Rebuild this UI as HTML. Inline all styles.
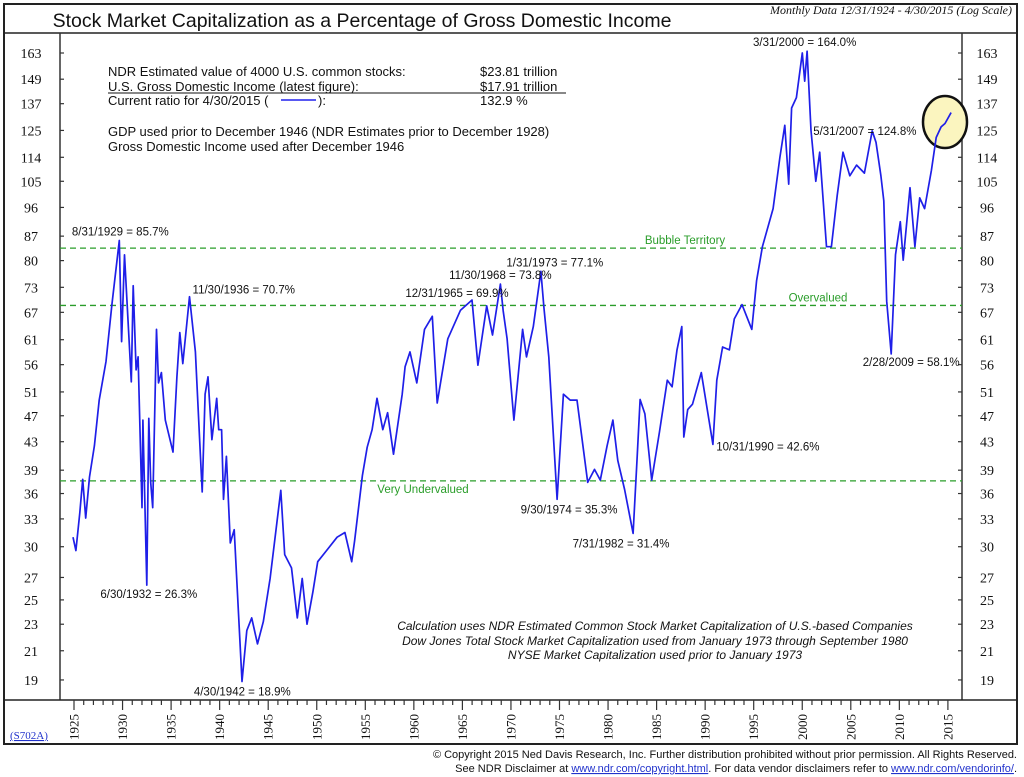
<!DOCTYPE html>
<html><head><meta charset="utf-8">
<style>
body{margin:0;background:#fff;}
svg{display:block;}
.s{font-family:"Liberation Sans",sans-serif;}
.r{font-family:"Liberation Serif",serif;}
</style></head>
<body>
<svg id="chart" width="1024" height="777" viewBox="0 0 1024 777" xmlns="http://www.w3.org/2000/svg">
<rect x="4" y="4" width="1013" height="740" fill="#fff" stroke="#222" stroke-width="2"/>
<line x1="4" y1="33" x2="1017" y2="33" stroke="#222" stroke-width="1.5"/>
<text class="s" x="362" y="27" font-size="19.5" text-anchor="middle" fill="#111">Stock Market Capitalization as a Percentage of Gross Domestic Income</text>
<text class="r" x="1012" y="14" font-size="12" font-style="italic" text-anchor="end" fill="#111">Monthly Data 12/31/1924 - 4/30/2015 (Log Scale)</text>
<line x1="60" y1="33" x2="60" y2="700" stroke="#333" stroke-width="1.5"/>
<line x1="962" y1="33" x2="962" y2="700" stroke="#333" stroke-width="1.5"/>
<line x1="4" y1="700" x2="1017" y2="700" stroke="#222" stroke-width="1.5"/>
<g id="grid"></g>
<g id="ticks"></g>
<g class="s" font-size="13" fill="#111">
<text x="108" y="76">NDR Estimated value of 4000 U.S. common stocks:</text>
<text x="480" y="76">$23.81 trillion</text>
<text x="108" y="91">U.S. Gross Domestic Income (latest figure):</text>
<text x="480" y="91">$17.91 trillion</text>
<line x1="108" y1="93" x2="566" y2="93" stroke="#111" stroke-width="1"/>
<text x="108" y="105">Current ratio for 4/30/2015 (</text>
<line x1="281" y1="100" x2="316" y2="100" stroke="#2020ee" stroke-width="1.5"/>
<text x="318" y="105">):</text>
<text x="480" y="105">132.9 %</text>
<text x="108" y="136">GDP used prior to December 1946 (NDR Estimates prior to December 1928)</text>
<text x="108" y="151">Gross Domestic Income used after December 1946</text>
</g>
<g class="s" font-size="12" font-style="italic" fill="#111" text-anchor="middle">
<text x="655" y="630">Calculation uses NDR Estimated Common Stock Market Capitalization of U.S.-based Companies</text>
<text x="655" y="645">Dow Jones Total Stock Market Capitalization used from January 1973 through September 1980</text>
<text x="655" y="659">NYSE Market Capitalization used prior to January 1973</text>
</g>
<ellipse cx="945" cy="122" rx="22" ry="26" fill="#fbf5bf" stroke="#111" stroke-width="2.5"/>
<g id="series"></g>
<g id="labels" class="s" font-size="11.5" fill="#111"></g>
<text class="r" x="10" y="739" font-size="11" fill="#2233cc" text-decoration="underline">(S702A)</text>
<g class="s" font-size="11" fill="#111" text-anchor="end">
<text x="1017" y="758">© Copyright 2015 Ned Davis Research, Inc.  Further distribution prohibited without prior permission.  All Rights Reserved.</text>
<text x="1017" y="772">See NDR Disclaimer at <tspan fill="#2233cc" text-decoration="underline">www.ndr.com/copyright.html</tspan>.  For data vendor disclaimers refer to <tspan fill="#2233cc" text-decoration="underline">www.ndr.com/vendorinfo/</tspan>.</text>
</g>
</svg>
<script>
const yTicks=[163,149,137,125,114,105,96,87,80,73,67,61,56,51,47,43,39,36,33,30,27,25,23,21,19];
const xTicks=[1925,1930,1935,1940,1945,1950,1955,1960,1965,1970,1975,1980,1985,1990,1995,2000,2005,2010,2015];
const refValues=[83.5,68.6,37.6];
const refNames=["Bubble Territory","Overvalued","Very Undervalued"];
const years=[1924.9,1925.2,1925.6,1925.9,1926.2,1926.6,1927.1,1927.6,1928.3,1928.9,1929.67,1929.9,1930.2,1930.9,1931.1,1931.4,1931.6,1932.0,1932.1,1932.5,1932.7,1932.9,1933.1,1933.5,1933.7,1934.0,1934.4,1935.2,1935.6,1935.9,1936.2,1936.9,1937.5,1938.0,1938.2,1938.5,1938.8,1939.2,1939.7,1939.9,1940.2,1940.4,1940.7,1941.1,1941.5,1942.3,1942.8,1943.3,1943.9,1944.5,1945.2,1945.9,1946.3,1946.7,1947.4,1948.0,1948.5,1949.0,1949.6,1950.1,1951.0,1952.1,1952.9,1953.6,1953.9,1954.7,1955.2,1955.7,1956.2,1956.8,1957.3,1957.9,1958.8,1959.1,1959.6,1960.3,1961.1,1961.9,1962.4,1963.5,1964.8,1965.99,1966.6,1967.5,1968.1,1968.91,1969.2,1969.6,1970.3,1971.2,1971.6,1972.3,1973.08,1973.4,1973.9,1974.75,1975.4,1976.1,1976.8,1977.9,1978.6,1979.2,1979.9,1980.5,1981.0,1981.7,1982.58,1983.0,1983.3,1983.8,1984.5,1985.3,1986.1,1986.6,1987.1,1987.6,1987.8,1988.2,1988.7,1989.6,1990.8,1991.2,1991.8,1992.5,1993.0,1993.8,1994.8,1995.3,1995.9,1997.0,1997.7,1998.2,1998.6,1998.9,1999.4,2000.0,2000.25,2000.5,2000.9,2001.4,2001.8,2002.5,2003.0,2003.6,2004.2,2004.9,2005.6,2006.4,2007.2,2007.6,2008.1,2008.4,2008.7,2009.16,2009.6,2010.1,2010.4,2011.1,2011.6,2012.1,2012.6,2013.3,2013.8,2014.3,2014.7,2015.33];
const values=[31.0,29.6,33.7,37.8,33.1,38.1,42.4,49.6,56.6,68.8,85.7,60.6,81.6,52.8,73.4,55.0,57.5,34.3,46.3,26.3,46.6,37.4,34.3,63.2,52.6,54.5,46.3,41.5,53.7,62.5,56.2,70.7,58.5,41.6,36.2,50.6,53.7,43.3,49.9,44.8,44.8,35.3,40.9,30.4,31.8,18.9,22.5,23.5,21.5,23.2,26.9,32.6,36.4,29.2,27.9,23.5,26.9,23.0,25.7,28.5,29.6,31.0,31.5,28.5,30.6,38.3,42.2,44.8,49.9,44.8,47.5,41.2,50.6,55.6,58.5,52.6,63.2,66.1,49.1,61.2,67.5,69.9,55.9,68.5,62.0,73.8,67.3,61.2,46.3,63.2,57.5,63.8,77.1,67.9,57.5,35.3,50.6,49.6,49.6,37.4,39.1,37.7,42.4,46.3,40.3,36.5,31.4,40.9,49.7,47.3,37.7,44.5,53.1,51.9,58.9,63.8,43.7,48.0,48.9,54.5,42.6,53.1,59.5,58.9,65.5,68.8,63.2,74.7,83.9,95.6,114,127.2,104,135,139.9,163,148,164,125,105,116,83.9,83.9,100,116,107,111,108,124.8,120,107,98.2,69.6,58.1,81.6,91.4,80.1,102.7,83.9,99.2,95.6,109,122,126.5,128,132.9];
const annText=["8/31/1929 = 85.7%","6/30/1932 = 26.3%","11/30/1936 = 70.7%","4/30/1942 = 18.9%","12/31/1965 = 69.9%","11/30/1968 = 73.8%","1/31/1973 = 77.1%","9/30/1974 = 35.3%","7/31/1982 = 31.4%","10/31/1990 = 42.6%","3/31/2000 = 164.0%","5/31/2007 = 124.8%","2/28/2009 = 58.1%"];
const annYear=[1929.67,1932.5,1936.9,1942.33,1965.99,1968.91,1973.08,1974.75,1982.58,1990.83,2000.25,2007.41,2009.16];
const annValue=[85.7,26.3,70.7,18.9,69.9,73.8,77.1,35.3,31.4,42.6,164.0,124.8,58.1];
const annPos=["above","below","right","below","above","above","above","below","below","right","above","left","below"];

const NS="http://www.w3.org/2000/svg";
const X=yr=>74+(yr-1925)*9.71;
const Y=v=>53+Math.log(163/v)*291.7;
function mk(tag,attrs,parent){const e=document.createElementNS(NS,tag);for(const k in attrs)e.setAttribute(k,attrs[k]);parent.appendChild(e);return e;}
const ticks=document.getElementById('ticks'),grid=document.getElementById('grid'),series=document.getElementById('series'),labels=document.getElementById('labels');

yTicks.forEach(v=>{
  const y=Y(v);
  const l1=mk('line',{x1:60,y1:y,x2:64,y2:y,stroke:'#333','stroke-width':1.2},ticks);
  
  
  const l2=mk('line',{x1:958,y1:y,x2:962,y2:y,stroke:'#333','stroke-width':1.2},ticks);
  
  
  const t1=mk('text',{x:31,y:y+5,'font-size':14,'text-anchor':'middle',class:'r',fill:'#111'},ticks);
  t1.textContent=v;
  
  
  const t2=mk('text',{x:987,y:y+5,'font-size':14,'text-anchor':'middle',class:'r',fill:'#111'},ticks);
  t2.textContent=v;
  
  
});
for(let yr=1925;yr<=2015;yr++){
  const x=X(yr),major=xTicks.includes(yr);
  const l=mk('line',{x1:x,y1:700,x2:x,y2:major?710:705,stroke:'#333','stroke-width':1.2},ticks);
  
  
}
xTicks.forEach(yr=>{
  const x=X(yr);
  const t=mk('text',{x:0,y:0,'font-size':13,class:'r',fill:'#111','text-anchor':'middle',transform:`translate(${x+4.5},727) rotate(-90)`},ticks);
  t.textContent=yr;
  
  
});
const refLabelX=[685,818,423];
refValues.forEach((v,i)=>{
  const y=Y(v);
  const l=mk('line',{x1:60,y1:y,x2:962,y2:y,stroke:'#2a9d2a','stroke-width':1.3,'stroke-dasharray':'6,4'},grid);
  
  
  const t=mk('text',{x:refLabelX[i],y:i==2?y+12:y-4,'font-size':11.5,class:'s',fill:'#2a9d2a','text-anchor':'middle'},grid);
  t.textContent=refNames[i];
  
  
});
const pts=years.map((yr,i)=>X(yr).toFixed(1)+','+Y(values[i]).toFixed(1)).join(' ');
const pl=mk('polyline',{points:pts,fill:'none',stroke:'#1f1fe8','stroke-width':1.7,'stroke-linejoin':'round'},series);


annText.forEach((s,i)=>{
  const x=X(annYear[i]),y=Y(annValue[i]);let tx=x,ty=y,anc='middle';
  if(annPos[i]=='above'){ty=y-5;}
  else if(annPos[i]=='below'){ty=y+14;}
  else if(annPos[i]=='right'){tx=x+3;ty=annYear[i]>1980?y+6:y-3;anc='start';}
  else {tx=x-4;ty=y+2;anc='end';}
  if(i==0){tx=x+1;}
  if(i==1){tx=x+2;ty=y+13;}
  if(i==4){tx=x-15;ty=y-3;}
  if(i==6){tx=x+14;ty=y-5;}
  if(i==7){tx=x+12;}
  if(i==8){tx=x-12;}
  if(i==11){tx=x-61;ty=y+4;anc='start';}
  if(i==12){tx=x+20;ty=y+12;}
  const t=mk('text',{x:tx,y:ty,'text-anchor':anc},labels);
  t.textContent=s;
  
  
});
</script>
</body></html>
